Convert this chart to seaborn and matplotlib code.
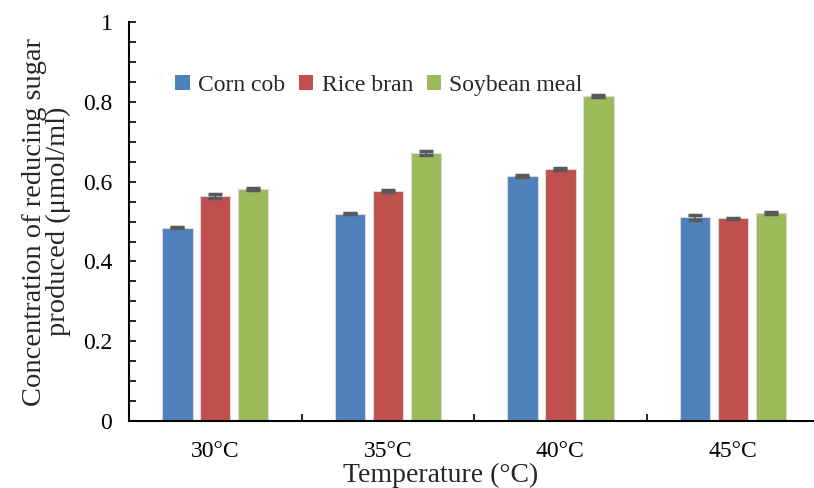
import matplotlib
matplotlib.use('Agg')
import numpy as np
import pandas as pd
import matplotlib.pyplot as plt
import seaborn as sns
from matplotlib.ticker import MultipleLocator

# ========== 数据 ==========
temps = ['30°C', '35°C', '40°C', '45°C']
substrates = ['Corn cob', 'Rice bran', 'Soybean meal']
corn_cob = [0.485, 0.520, 0.614, 0.511]
rice_bran = [0.563, 0.576, 0.632, 0.508]
soybean_meal = [0.581, 0.672, 0.815, 0.521]
corn_err = [0.002, 0.002, 0.002, 0.006]
rice_err = [0.005, 0.003, 0.002, 0.002]
soy_err = [0.002, 0.005, 0.002, 0.002]

colors = ['#4F81BD', '#C0504D', '#9BBB59']

df = pd.DataFrame({
    'temp': temps * 3,
    'substrate': np.repeat(substrates, len(temps)),
    'value': corn_cob + rice_bran + soybean_meal,
    'err': corn_err + rice_err + soy_err,
})

sns.set_theme(style='white')
plt.rcParams['font.family'] = ['Liberation Serif', 'DejaVu Serif']
plt.rcParams['mathtext.fontset'] = 'stix'

fig = plt.figure(figsize=(8.14, 4.88), dpi=100)
ax = fig.add_axes([0.1585, 0.137, 0.8415, 0.818])

sns.barplot(data=df, x='temp', y='value', hue='substrate', order=temps,
            hue_order=substrates, palette=colors, saturation=1, width=0.66, gap=0.2,
            edgecolor='#d9d9d9', linewidth=0.8, errorbar=None, ax=ax)

# 误差线：按柱子的实际位置画
for patch, (_, row) in zip(ax.patches, df.iterrows()):
    xc = patch.get_x() + patch.get_width() / 2
    ax.errorbar(xc, row['value'], yerr=row['err'], fmt='none',
                ecolor='#595959', elinewidth=1.2, capsize=5, capthick=2.5)

ax.set_ylim(0, 1)
ax.set_xlim(-0.5, 3.47)
ax.yaxis.set_minor_locator(MultipleLocator(0.05))
ax.set_yticks([0, 0.2, 0.4, 0.6, 0.8, 1.0])
ax.set_yticklabels(['0', '0.2', '0.4', '0.6', '0.8', '1'])
ax.set_xticks([0.5, 1.5, 2.5], minor=True)

ax.tick_params(axis='both', which='both', direction='in', colors='black',
               labelsize=17)
ax.tick_params(axis='y', which='both', length=5, width=1.2, left=True, pad=12)
ax.tick_params(axis='x', which='major', length=4, width=1.2, bottom=True, pad=14)
ax.tick_params(axis='x', which='minor', length=5, width=1.2, bottom=True)

for side in ['top', 'right']:
    ax.spines[side].set_visible(False)
for side in ['left', 'bottom']:
    ax.spines[side].set_color('black')
    ax.spines[side].set_linewidth(1.5)

ax.set_xlabel('Temperature (°C)', fontsize=20)
ax.xaxis.set_label_coords(0.455, -0.105)
ax.set_ylabel('Concentration of reducing sugar\nproduced (μmol/ml)', fontsize=20.5,
              linespacing=0.95)
ax.yaxis.set_label_coords(-0.085, 0.5)

leg = ax.legend(loc='upper left', bbox_to_anchor=(0.054, 0.89), ncol=3,
                frameon=False, fontsize=17, handlelength=0.6, handleheight=0.6,
                handletextpad=0.35, columnspacing=0.6, borderaxespad=0)
for h in leg.legend_handles:
    h.set_edgecolor('none')

fig.savefig('out.png', dpi=100)
